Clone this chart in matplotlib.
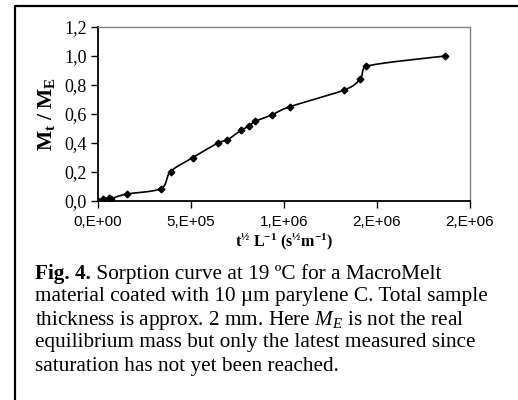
import numpy as np
import matplotlib
matplotlib.use("Agg")
import matplotlib.pyplot as plt
from matplotlib.lines import Line2D

plt.rcParams['mathtext.fontset'] = 'custom'
plt.rcParams['mathtext.rm'] = 'Liberation Serif'
plt.rcParams['mathtext.it'] = 'Liberation Serif:italic'
plt.rcParams['mathtext.bf'] = 'Liberation Serif:bold'

# data
x_vals = [0, 28500, 60000, 70000, 154000, 338000, 390000, 509000, 645000, 695000,
          769000, 812000, 846000, 934000, 1031000, 1325000, 1410000, 1441000, 1867000]
y_vals = [0.0, 0.012, 0.018, 0.016, 0.048, 0.086, 0.203, 0.299, 0.400, 0.421,
          0.488, 0.516, 0.550, 0.593, 0.650, 0.766, 0.843, 0.929, 1.000]
x_ticks = [0, 500000, 1000000, 1500000, 2000000]
x_tick_labels = ["0,E+00", "5,E+05", "1,E+06", "2,E+06", "2,E+06"]
y_ticks = [0.0, 0.2, 0.4, 0.6, 0.8, 1.0, 1.2]
y_tick_labels = ["0,0", "0,2", "0,4", "0,6", "0,8", "1,0", "1,2"]


def smooth(xs, ys, n=30):
    xs = np.asarray(xs, float); ys = np.asarray(ys, float)
    px = np.concatenate([[xs[0]], xs, [xs[-1]]])
    py = np.concatenate([[ys[0]], ys, [ys[-1]]])
    ox, oy = [], []
    t = np.linspace(0, 1, n)
    for i in range(1, len(px) - 2):
        p0 = np.array([px[i], py[i]]); p3 = np.array([px[i + 1], py[i + 1]])
        c1 = p0 + (np.array([px[i + 1], py[i + 1]]) - np.array([px[i - 1], py[i - 1]])) / 6
        c2 = p3 - (np.array([px[i + 2], py[i + 2]]) - np.array([px[i], py[i]])) / 6
        lo, hi = min(p0[0], p3[0]), max(p0[0], p3[0])
        c1[0] = np.clip(c1[0], lo, hi); c2[0] = np.clip(c2[0], lo, hi)
        b = ((1 - t) ** 3)[:, None] * p0 + (3 * (1 - t) ** 2 * t)[:, None] * c1 + \
            (3 * (1 - t) * t ** 2)[:, None] * c2 + (t ** 3)[:, None] * p3
        ox.extend(b[:, 0]); oy.extend(b[:, 1])
    return ox, oy


fig = plt.figure(figsize=(5.18, 4.0), dpi=100)
ax = fig.add_axes([98 / 518, 1 - 201 / 400, 372 / 518, 174 / 400])

sx, sy = smooth(x_vals, y_vals)
ax.plot(sx, sy, color='black', lw=1.2, zorder=2)
ax.plot(x_vals, y_vals, ls='none', marker='D', ms=3.4, color='black', zorder=3)

ax.set_xlim(0, 2000000)
ax.set_ylim(0, 1.2)
ax.set_xticks(x_ticks)
ax.set_xticklabels(x_tick_labels, family='Liberation Sans', fontsize=11)
ax.set_yticks(y_ticks)
ax.set_yticklabels(y_tick_labels, family='Liberation Serif', fontsize=13)
ax.tick_params(direction='out', length=5, width=1, color='black', pad=3)
ax.tick_params(axis='x', pad=5)

for s in ['left', 'bottom']:
    ax.spines[s].set_color('black'); ax.spines[s].set_linewidth(1.3)
for s in ['top', 'right']:
    ax.spines[s].set_color('#808080'); ax.spines[s].set_linewidth(1.0)

ax.set_ylabel(r"$\mathbf{M_t\ /\ M_E}$", fontsize=15.5, labelpad=5)
ax.set_xlabel(r"$\mathbf{t^{½}\ L^{-1}\ (s^{½}m^{-1})}$", fontsize=11.5, labelpad=2)

# frame
fig.add_artist(Line2D([15 / 518, 15 / 518, 1.0], [0, 1 - 6 / 400, 1 - 6 / 400],
                      transform=fig.transFigure, color='black', lw=1.6))

caption_bold = "Fig. 4."
caption = [
    " Sorption curve at 19 ºC for a MacroMelt",
    "material coated with 10 µm parylene C. Total sample",
    r"thickness is approx. 2 mm. Here $M_E$ is not the real",
    "equilibrium mass but only the latest measured since",
    "saturation has not yet been reached.",
]
y0 = 274
x0 = 35 / 518
renderer = fig.canvas.get_renderer()
tb = fig.text(x0, 1 - y0 / 400, caption_bold, family='Liberation Serif',
              fontweight='bold', fontsize=15.3, va='center', ha='left')
bb = tb.get_window_extent(renderer=renderer)
for i, line in enumerate(caption):
    xx = (bb.x1 / fig.bbox.width) if i == 0 else x0
    fig.text(xx, 1 - (y0 + 23 * i) / 400, line, family='Liberation Serif',
             fontsize=15.3, va='center', ha='left')

fig.savefig("out.png", dpi=100)
